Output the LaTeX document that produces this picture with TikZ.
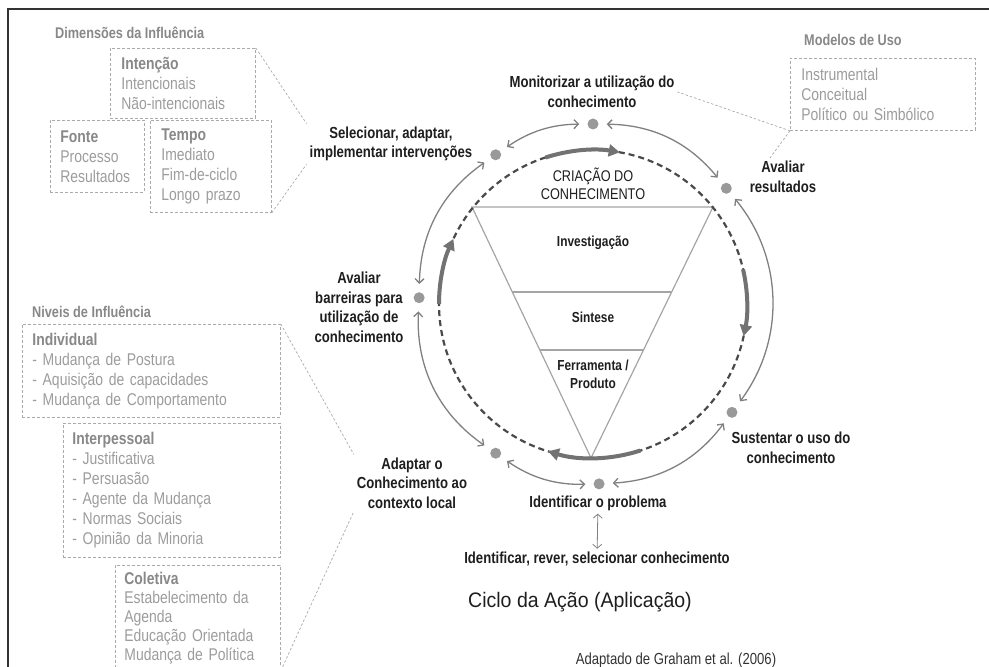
\documentclass[tikz,border=0pt]{standalone}
\usepackage{fontspec}
\setmainfont{Liberation Sans}
\newfontfamily\narrowsans{Liberation Sans}[FakeStretch=0.82]
\newfontfamily\titlesans{Liberation Sans}[FakeStretch=0.93]
\usetikzlibrary{arrows.meta,positioning,calc}

\definecolor{inkgray}{HTML}{1E1E1E}
\definecolor{framegray}{HTML}{333333}
\definecolor{headgray}{HTML}{888888}
\definecolor{softgray}{HTML}{9C9C9C}
\definecolor{boxgray}{HTML}{AAAAAA}
\definecolor{dotgray}{HTML}{999999}
\definecolor{arcgray}{HTML}{808080}
\definecolor{ringgray}{HTML}{4A4A4A}
\definecolor{flowgray}{HTML}{727272}
\definecolor{funnelgray}{HTML}{A5A5A5}

\tikzset{
  lbl/.style={font=\narrowsans\bfseries\fontsize{16}{19.5}\selectfont, text=inkgray, align=center, inner sep=3pt},
  inlbl/.style={font=\narrowsans\bfseries\fontsize{14.5}{18}\selectfont, text=inkgray, align=center},
  dot/.style={circle, fill=dotgray, minimum size=11pt, inner sep=0pt},
  cyc/.style={{Straight Barb[length=4.5pt,width=9pt]}-{Straight Barb[length=4.5pt,width=9pt]}, draw=arcgray, line width=1.3pt, shorten <=8pt, shorten >=8pt},
  ring/.style={draw=ringgray, line width=2.2pt, dash pattern=on 6pt off 4pt},
  flow/.style={-{Triangle[length=11pt,width=12pt]}, draw=flowgray, line width=4pt},
  funnel/.style={draw=funnelgray, line width=1.2pt},
  paneltitle/.style={font=\narrowsans\bfseries\fontsize{15.5}{18}\selectfont, text=headgray, anchor=west, inner sep=0pt},
  panel/.style={draw=boxgray, dash pattern=on 3pt off 2pt, line width=0.8pt, align=left, anchor=north west,
    font=\narrowsans\fontsize{17}{20}\selectfont, text=softgray, inner ysep=0pt},
  callout/.style={draw=boxgray, dash pattern=on 2.5pt off 2pt, line width=0.7pt},
  link/.style={{Straight Barb[length=4pt,width=9pt]}-{Straight Barb[length=4pt,width=9pt]}, draw=arcgray, line width=0.8pt}
}

\begin{document}
\begin{tikzpicture}[x=1pt,y=1pt]
  \useasboundingbox (0,0) rectangle (989,667);
  \clip (0,0) rectangle (989,667);
  % frame
  \draw[line width=1.4pt, draw=framegray] (8,0) |- (989,658);

  \coordinate (c) at (593,363);

  % knowledge creation funnel
  \coordinate (tl) at (472,460);
  \coordinate (tr) at (713,460);
  \coordinate (ap) at (591,209);
  \draw[funnel] (tl) -- (tr) -- (ap) -- cycle;
  \draw[funnel] ($(tl)!0.339!(ap)$) -- ($(tr)!0.339!(ap)$);
  \draw[funnel] ($(tl)!0.570!(ap)$) -- ($(tr)!0.570!(ap)$);

  \node[font=\narrowsans\fontsize{15.5}{18}\selectfont, text=inkgray, align=center] (criacao) at (593,483) {CRIAÇÃO DO\\CONHECIMENTO};
  \node[inlbl] (invest) at (593,424) {Investigação};
  \node[inlbl] (sintese) at (593,350) {Sintese};
  \node[inlbl] (ferr) at (593,293) {Ferramenta /\\Produto};

  % dashed ring + flow arrows
  \draw[ring] (c) circle[radius=154];
  \draw[flow] ($(c)+(108:154)$) arc[start angle=108, end angle=80, radius=154];
  \draw[flow] ($(c)+(13:154)$) arc[start angle=13, end angle=-12, radius=154];
  \draw[flow] ($(c)+(-72:154)$) arc[start angle=-72, end angle=-107, radius=154];
  \draw[flow] ($(c)+(180:154)$) arc[start angle=180, end angle=155, radius=154];

  % action cycle
  \node[dot] (dmon) at ($(c)+(90:174 and 180)$) {};
  \node[dot] (davres) at ($(c)+(40:174 and 180)$) {};
  \node[dot] (dsust) at ($(c)+(-37:174 and 180)$) {};
  \node[dot] (dident) at ($(c)+(-88:174 and 180)$) {};
  \node[dot] (dadapt) at ($(c)+(-124:174 and 180)$) {};
  \node[dot] (dbarr) at ($(c)+(178:174 and 180)$) {};
  \node[dot] (dsel) at ($(c)+(124:174 and 180)$) {};

  \draw[cyc] (dsel) to[bend left=17] (dmon);
  \draw[cyc] (dmon) to[bend left=25] (davres);
  \draw[cyc] (davres) to[bend left=38] (dsust);
  \draw[cyc] (dsust) to[bend left=25] (dident);
  \draw[cyc] (dident) to[bend left=18] (dadapt);
  \draw[cyc] (dadapt) to[bend left=29] (dbarr);
  \draw[cyc] (dbarr) to[bend left=27] (dsel);

  \node[lbl] (mon) at (592,575) {Monitorizar a utilização do\\conhecimento};
  \node[lbl] (sel) at (391,523) {Selecionar, adaptar,\\implementar intervenções};
  \node[lbl] (avres) at (783,490) {Avaliar\\resultados};
  \node[lbl] (barr) at (359,359.5) {Avaliar\\barreiras para\\utilização de\\conhecimento};
  \node[lbl] (sust) at (791,219) {Sustentar o uso do\\conhecimento};
  \node[lbl] (adapt) at (412,184) {Adaptar o\\Conhecimento ao\\contexto local};
  \node[lbl] (ident) at (598,164) {Identificar o problema};
  \node[lbl] (rever) at (597,108) {Identificar, rever, selecionar conhecimento};
  \draw[link] (ident) -- (rever);

  \node[font=\titlesans\fontsize{21}{24}\selectfont, text=inkgray] (ciclo) at (580,65) {Ciclo da Ação (Aplicação)};
  \node[font=\narrowsans\fontsize{16}{18}\selectfont, text=framegray] (fonteref) at (676,7) {Adaptado de Graham et al. (2006)};

  % Dimensoes da Influencia
  \node[paneltitle] (dimtit) at (55,634) {Dimensões da Influência};
  \node[panel, inner xsep=11pt, text width=123pt, minimum height=70pt] (intencao) at (110,619)
    {\textcolor{headgray}{\textbf{Intenção}}\\Intencionais\\Não-intencionais};
  \node[panel, inner xsep=10pt, text width=74pt, minimum height=72pt] (fonte) at (50,547)
    {\textcolor{headgray}{\textbf{Fonte}}\\Processo\\Resultados};
  \node[panel, inner xsep=11pt, text width=99pt, minimum height=92pt] (tempo) at (150,547)
    {\textcolor{headgray}{\textbf{Tempo}}\\Imediato\\Fim-de-ciclo\\Longo prazo};
  \draw[callout] (intencao.north east) -- (sel.north west);
  \draw[callout] (tempo.south east) -- (sel.south west);

  % Modelos de Uso
  \node[paneltitle] (modtit) at (804,627) {Modelos de Uso};
  \node[panel, inner xsep=11pt, text width=163pt, minimum height=72pt] (usos) at (790,609)
    {Instrumental\\Conceitual\\Político ou Simbólico};
  \draw[callout] (usos.south west) -- (mon.east);
  \draw[callout] (usos.south west) -- (avres.125);

  % Niveis de Influencia
  \node[paneltitle] (nivtit) at (32,355) {Niveis de Influência};
  \node[panel, inner xsep=10pt, text width=238pt, minimum height=93pt] (individual) at (22,343)
    {\textcolor{headgray}{\textbf{Individual}}\\- Mudança de Postura\\- Aquisição de capacidades\\- Mudança de Comportamento};
  \node[panel, inner xsep=9pt, text width=199pt, minimum height=134pt] (interpessoal) at (63,244)
    {\textcolor{headgray}{\textbf{Interpessoal}}\\- Justificativa\\- Persuasão\\- Agente da Mudança\\- Normas Sociais\\- Opinião da Minoria};
  \node[panel, inner xsep=9pt, text width=147pt, minimum height=105pt,
    font=\narrowsans\fontsize{17}{19}\selectfont] (coletiva) at (115,102)
    {\textcolor{headgray}{\textbf{Coletiva}}\\Estabelecimento da\\Agenda\\Educação Orientada\\Mudança de Política};
  \draw[callout] (individual.north east) -- (adapt.north west);
  \draw[callout] (coletiva.south east) -- (adapt.south west);
\end{tikzpicture}
\end{document}
